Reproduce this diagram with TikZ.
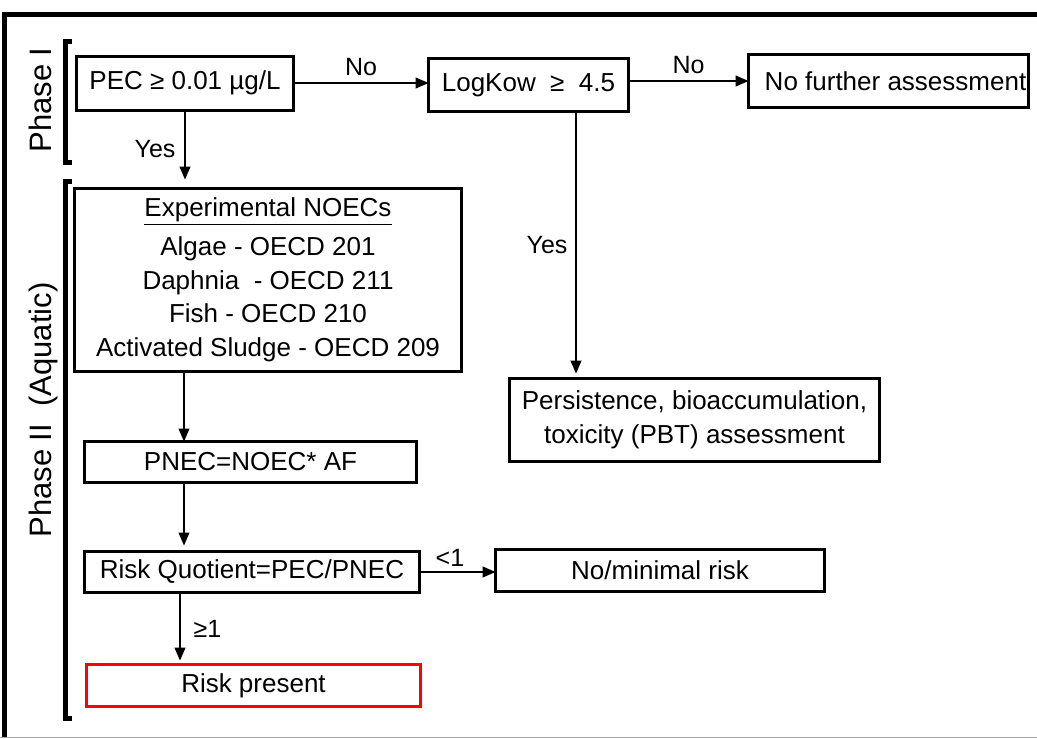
\documentclass[tikz,border=0pt]{standalone}
\usepackage{fontspec}
\setmainfont{Liberation Sans}
\usetikzlibrary{arrows.meta,positioning}

\begin{document}
\begin{tikzpicture}[x=1pt, y=-1pt,
        box/.style={draw, line width=3pt, inner sep=0pt, outer sep=0pt, align=center,
            font=\fontsize{26}{33.5}\selectfont},
        arr/.style={-{Triangle[length=13pt,width=11pt]}, line width=1.1pt},
        lbl/.style={inner sep=0pt, font=\fontsize{25}{30}\selectfont},
        phase/.style={rotate=90, anchor=base, inner sep=0pt, font=\fontsize{31}{36}\selectfont},
        brack/.style={line width=5pt}]
        \useasboundingbox (0,0) rectangle (1037,739);

        % frame
        \draw[line width=5pt] (1037,14.5) -- (4,14.5) -- (4,737);
        \draw[gray!70, line width=1.5pt] (0,737.5) -- (1037,737.5);

        % phases
        \draw[brack] (72,41) -- (65,41) -- (65,162) -- (72,162);
        \draw[brack] (72,181) -- (65,181) -- (65,718) -- (72,718);
        \node[phase] (phase1) at (51,100) {Phase I};
        \node[phase] (phase2) at (51,410) {Phase II\ \ (Aquatic)};

        \node[box, minimum width=217pt, minimum height=54pt] (pec) at (185,83) {PEC ≥ 0.01 µg/L};
        \node[box, minimum width=200pt, minimum height=53pt] (logkow) at (528.5,85) {LogKow\ \ ≥\ \ 4.5};
        \node[box, minimum width=280pt, minimum height=53pt] (nofurther) at (888.5,81) {\hspace*{14pt}No further assessment};

        \node[box, minimum width=387pt, minimum height=183pt] (noecs) at (268,280)
            {\underline{Experimental NOECs}\\[5.5pt] Algae - OECD 201\\ Daphnia\ \ - OECD 211\\
             Fish - OECD 210\\ Activated Sludge - OECD 209};
        \node[box, minimum width=332pt, minimum height=41pt] (pnec) at (250.5,462) {PNEC=NOEC* AF};
        \node[box, minimum width=335pt, minimum height=41pt] (rq) at (252,572) {Risk Quotient=PEC/PNEC};
        \node[box, draw=red, minimum width=334pt, minimum height=42pt] (risk) at (253.5,685.5) {Risk present};
        \node[box, minimum width=329pt, minimum height=42pt] (nomin) at (660,570.5) {No/minimal risk};
        \node[box, minimum width=370pt, minimum height=83pt] (pbt) at (694.5,420)
            {Persistence, bioaccumulation,\\ toxicity (PBT) assessment};

        \coordinate (spine) at (184,0);
        \coordinate (riskdrop) at (180,0);
        \coordinate (lkdrop) at (576,0);

        \draw[arr] (pec.east) -- (pec.east -| logkow.west) node[lbl, midway, above=7pt] (no1) {No};
        \draw[arr] (nofurther.west -| logkow.east) -- (nofurther.west) node[lbl, midway, above=7pt] (no2) {No};
        \draw[arr, shorten >=9pt] (pec.south) -- (pec.south |- noecs.north) node[lbl, midway, left=9pt] (yes1) {Yes};
        \draw[arr, shorten >=5pt] (lkdrop |- logkow.south) -- (lkdrop |- pbt.north) node[lbl, midway, left=8pt] (yes2) {Yes};
        \draw[arr] (spine |- noecs.south) -- (spine |- pnec.north);
        \draw[arr, shorten >=6pt] (spine |- pnec.south) -- (spine |- rq.north);
        \draw[arr] (rq.east) -- (rq.east -| nomin.west) node[lbl, pos=0.4, above=5pt] (lt1) {<1};
        \draw[arr, shorten >=4pt] (riskdrop |- rq.south) -- (riskdrop |- risk.north) node[lbl, midway, right=13pt] (ge1) {≥1};
    \end{tikzpicture}
\end{document}
